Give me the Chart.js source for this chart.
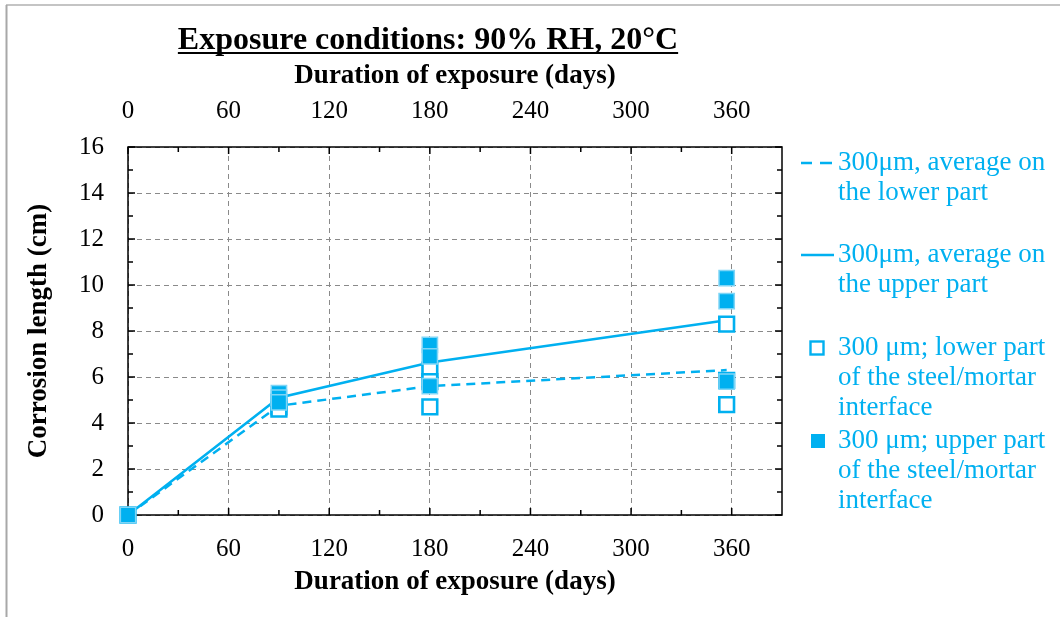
<!DOCTYPE html>
<html><head><meta charset="utf-8">
<script src="https://cdn.jsdelivr.net/npm/chart.js@4"></script>
<style>html,body{margin:0;padding:0;background:#fff;} #wrap{width:1060px;height:617px;position:relative;}</style>
</head><body><div id="wrap"><canvas id="c" width="1060" height="617"></canvas></div>
<script>
const chartTitle = 'Exposure conditions: 90% RH, 20°C';
const xAxisTitle = 'Duration of exposure (days)';
const yAxisTitle = 'Corrosion length (cm)';
const xTicks = [0, 60, 120, 180, 240, 300, 360];
const xMinorTicks = [30, 90, 150, 210, 270, 330];
const yTicks = [0, 2, 4, 6, 8, 10, 12, 14, 16];
const yMinorTicks = [1, 3, 5, 7, 9, 11, 13, 15];
const avgDays = [0, 90, 180, 357];
const lowerAverage = [0, 4.75, 5.6, 6.3];
const upperAverage = [0, 5.1, 6.63, 8.47];
const pointDays = [0, 90, 90, 90, 180, 180, 180, 357, 357, 357];
const lowerValues = [0, 4.9, 4.7, 4.6, 6.3, 5.8, 4.7, 8.3, 5.85, 4.8];
const upperValues = [0, 5.3, 5.1, 4.9, 7.4, 6.9, 5.6, 10.3, 9.3, 5.8];
const nameLowerAvg = ['300μm, average on', 'the lower part'];
const nameUpperAvg = ['300μm, average on', 'the upper part'];
const nameLowerPts = ['300 μm; lower part', 'of the steel/mortar', 'interface'];
const nameUpperPts = ['300 μm; upper part', 'of the steel/mortar', 'interface'];

const BLUE = '#00B0F0';
const SERIF = "'Liberation Serif', 'Times New Roman', serif";
const pts = (xs, ys) => xs.map((x, i) => ({x: x, y: ys[i]}));

const decor = {
  id: 'decor',
  beforeDatasetsDraw(chart) {
    const {ctx, chartArea: a, scales} = chart;
    const xs = scales.x, ys = scales.y;
    ctx.save();
    ctx.strokeStyle = '#000';
    ctx.lineWidth = 1.5;
    ctx.beginPath();
    const tick = (v, len, horiz) => {
      if (horiz) {
        const p = xs.getPixelForValue(v);
        ctx.moveTo(p, a.bottom); ctx.lineTo(p, a.bottom - len);
        ctx.moveTo(p, a.top); ctx.lineTo(p, a.top + len);
      } else {
        const p = ys.getPixelForValue(v);
        ctx.moveTo(a.left, p); ctx.lineTo(a.left + len, p);
        ctx.moveTo(a.right, p); ctx.lineTo(a.right - len, p);
      }
    };
    xTicks.forEach(v => tick(v, 7, true));
    xMinorTicks.forEach(v => tick(v, 5, true));
    yTicks.forEach(v => tick(v, 7, false));
    yMinorTicks.forEach(v => tick(v, 5, false));
    ctx.stroke();
    ctx.strokeRect(a.left, a.top, a.right - a.left, a.bottom - a.top);
    ctx.restore();
  },
  afterDraw(chart) {
    const {ctx} = chart;
    ctx.save();
    ctx.strokeStyle = '#c4c4c4'; ctx.lineWidth = 2;
    ctx.beginPath(); ctx.moveTo(6, 5); ctx.lineTo(1060, 5); ctx.stroke();
    ctx.strokeStyle = '#a8a8a8';
    ctx.beginPath(); ctx.moveTo(6.5, 5); ctx.lineTo(6.5, 617); ctx.stroke();
    ctx.fillStyle = '#000';
    ctx.font = 'bold 32px ' + SERIF;
    ctx.textAlign = 'center'; ctx.textBaseline = 'alphabetic';
    const tx = 428, ty = 49;
    ctx.fillText(chartTitle, tx, ty);
    const w = ctx.measureText(chartTitle).width;
    ctx.fillRect(tx - w / 2, ty + 3, w, 2);
    const entries = [
      {type: 'dash', lines: chart.data.datasets[3].label, y: 163},
      {type: 'solid', lines: chart.data.datasets[2].label, y: 255},
      {type: 'hollow', lines: chart.data.datasets[1].label, y: 348},
      {type: 'filled', lines: chart.data.datasets[0].label, y: 441}
    ];
    ctx.font = '27px ' + SERIF;
    ctx.textAlign = 'left'; ctx.textBaseline = 'middle';
    entries.forEach(e => {
      ctx.fillStyle = BLUE; ctx.strokeStyle = BLUE;
      if (e.type === 'dash') {
        ctx.lineWidth = 2.5;
        ctx.beginPath();
        ctx.moveTo(801, e.y); ctx.lineTo(812, e.y);
        ctx.moveTo(820, e.y); ctx.lineTo(832, e.y);
        ctx.stroke();
      } else if (e.type === 'solid') {
        ctx.lineWidth = 2.5;
        ctx.beginPath(); ctx.moveTo(801, e.y); ctx.lineTo(834, e.y); ctx.stroke();
      } else if (e.type === 'hollow') {
        ctx.lineWidth = 2.4;
        ctx.strokeRect(810.5, e.y - 6.5, 13, 13);
      } else {
        ctx.fillRect(811, e.y - 7, 14, 14);
      }
      e.lines.forEach((t, i) => ctx.fillText(t, 838, e.y + i * 30));
    });
    ctx.restore();
  }
};

const tickFont = {family: SERIF, size: 25};
const titleFont = {family: SERIF, size: 27, weight: 'bold'};
const setTicks = arr => s => { s.ticks = arr.map(v => ({value: v})); };

new Chart(document.getElementById('c'), {
  type: 'line',
  data: {
    datasets: [
      {label: nameUpperPts, data: pts(pointDays, upperValues), showLine: false,
       pointStyle: 'rect', pointRadius: 10.8, backgroundColor: BLUE, borderColor: '#7fd5f6',
       pointBorderWidth: 1.5, clip: false},
      {label: nameLowerPts, data: pts(pointDays, lowerValues), showLine: false,
       pointStyle: 'rect', pointRadius: 10.4, backgroundColor: '#fff', borderColor: BLUE,
       pointBorderWidth: 2.6, clip: false},
      {label: nameUpperAvg, data: pts(avgDays, upperAverage), borderColor: BLUE,
       borderWidth: 2.5, pointRadius: 0, tension: 0, fill: false, clip: false},
      {label: nameLowerAvg, data: pts(avgDays, lowerAverage), borderColor: BLUE,
       borderWidth: 2.5, borderDash: [9, 6], pointRadius: 0, tension: 0, fill: false, clip: false}
    ]
  },
  options: {
    responsive: false, animation: false, events: [],
    layout: {padding: {left: 0, right: 278, top: 0, bottom: 0}},
    plugins: {legend: {display: false}, tooltip: {enabled: false}, title: {display: false}},
    scales: {
      x: {type: 'linear', position: 'bottom', min: 0, max: 390,
          afterBuildTicks: setTicks(xTicks), afterFit: s => { s.height = 102; },
          grid: {color: '#8a8a8a', lineWidth: 1, drawTicks: false},
          border: {display: false, dash: [5, 4]},
          ticks: {font: tickFont, color: '#000', padding: 19, maxRotation: 0, autoSkip: false},
          title: {display: true, text: xAxisTitle, font: titleFont, color: '#000', padding: {top: 0, bottom: 19}}},
      x2: {type: 'linear', position: 'top', min: 0, max: 390,
           afterBuildTicks: setTicks(xTicks), afterFit: s => { s.height = 147; },
           grid: {drawOnChartArea: false, drawTicks: false},
           border: {display: false},
           ticks: {font: tickFont, color: '#000', padding: 21, maxRotation: 0, autoSkip: false},
           title: {display: true, text: xAxisTitle, font: titleFont, color: '#000', padding: {top: 60, bottom: 0}}},
      y: {type: 'linear', position: 'left', min: 0, max: 16,
          afterBuildTicks: setTicks(yTicks), afterFit: s => { s.width = 128; },
          grid: {color: '#8a8a8a', lineWidth: 1, drawTicks: false},
          border: {display: false, dash: [5, 4]},
          ticks: {font: tickFont, color: '#000', padding: 24, autoSkip: false},
          title: {display: true, text: yAxisTitle, font: titleFont, color: '#000', padding: {top: 23, bottom: 0}}}
    }
  },
  plugins: [decor]
});
</script></body></html>
